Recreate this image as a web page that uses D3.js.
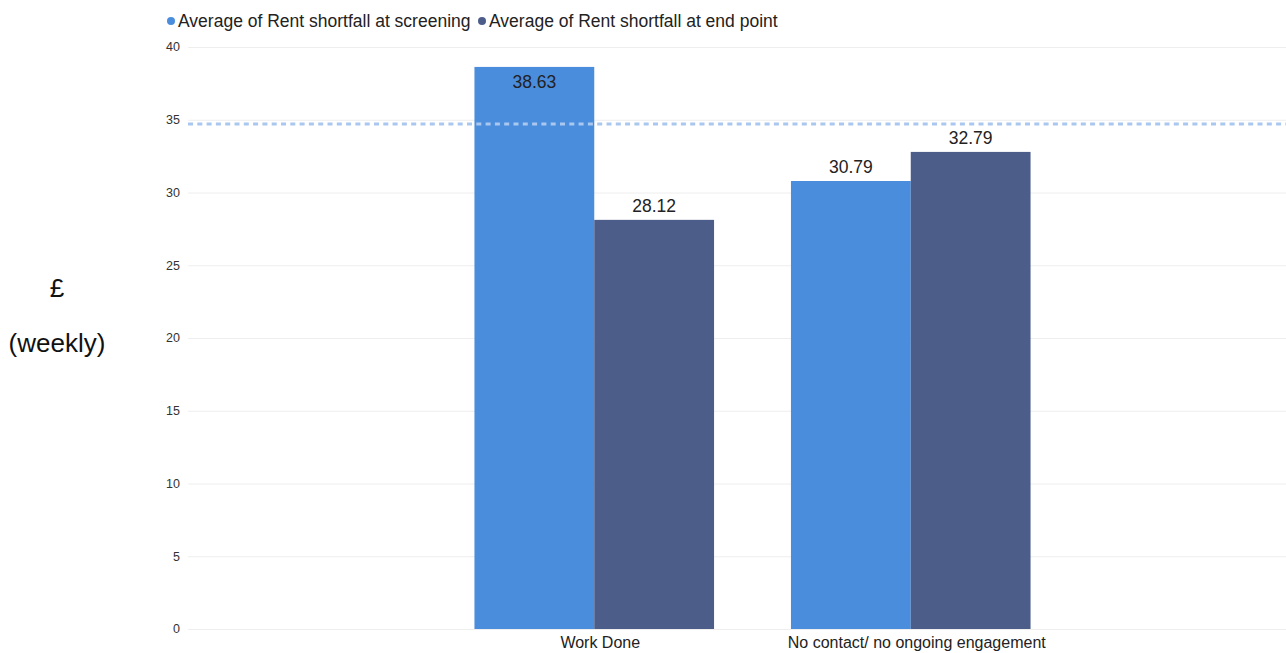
<!DOCTYPE html>
<html>
<head>
<meta charset="utf-8">
<script src="https://cdn.jsdelivr.net/npm/d3@7"></script>
<style>
  body { margin: 0; background: #fff; }
  text { font-family: "Liberation Sans", Arial, sans-serif; }
</style>
</head>
<body>
<div id="chart"></div>
<script>
// chart data
var categories = ["Work Done", "No contact/ no ongoing engagement"];
var seriesNames = ["Average of Rent shortfall at screening", "Average of Rent shortfall at end point"];
var screening = [38.63, 30.79];
var endPoint = [28.12, 32.79];
var yTicks = [0, 5, 10, 15, 20, 25, 30, 35, 40];
var colors = ["#4a8ddc", "#4c5d8a"];

var W = 1286, H = 653;
var svg = d3.select("#chart").append("svg")
    .attr("width", W)
    .attr("height", H);

// average line of the screening series
var avgLine = d3.mean(screening);

var y = d3.scaleLinear().domain([0, 40]).range([629, 47]);

var x0 = d3.scaleBand()
    .domain(categories)
    .range([436, 1069])
    .paddingInner(0.243)
    .paddingOuter(0.1215);

var x1 = d3.scaleBand()
    .domain([0, 1])
    .range([0, x0.bandwidth()]);

// gridlines
svg.append("g").selectAll("line")
    .data(yTicks).enter().append("line")
    .attr("x1", 188).attr("x2", W)
    .attr("y1", function(d){ return y(d) + 0.5 })
    .attr("y2", function(d){ return y(d) + 0.5 })
    .attr("stroke", "#eeeeee")
    .attr("stroke-width", 1);

// tick labels
svg.append("g").selectAll("text")
    .data(yTicks).enter().append("text")
    .attr("x", 180)
    .attr("y", function(d){ return y(d) })
    .attr("dy", "0.35em")
    .attr("text-anchor", "end")
    .attr("font-size", 12.5)
    .attr("fill", "#333")
    .text(function(d){ return d });

// bars
var rows = categories.map(function(c, i){
    return {cat: c, vals: [screening[i], endPoint[i]]};
});

var groups = svg.append("g").selectAll("g")
    .data(rows).enter().append("g")
    .attr("transform", function(d){ return "translate(" + x0(d.cat) + ",0)" });

groups.selectAll("rect")
    .data(function(d){ return d.vals }).enter().append("rect")
    .attr("x", function(d, i){ return x1(i) })
    .attr("width", x1.bandwidth())
    .attr("y", function(d){ return y(d) })
    .attr("height", function(d){ return y(0) - y(d) })
    .attr("fill", function(d, i){ return colors[i] });

// value labels, inside the bar when it would clip at the top
groups.selectAll("text")
    .data(function(d){ return d.vals }).enter().append("text")
    .attr("x", function(d, i){ return x1(i) + x1.bandwidth() / 2 })
    .attr("y", function(d){
        var top = y(d);
        return top - 20 < 47 ? top + 21 : top - 8;
    })
    .attr("text-anchor", "middle")
    .attr("font-size", 17.5)
    .attr("fill", "#222")
    .text(function(d){ return d.toFixed(2) });

// dashed average line
svg.append("line")
    .attr("x1", 188).attr("x2", W)
    .attr("y1", y(avgLine)).attr("y2", y(avgLine))
    .attr("stroke", "#a9c7ef")
    .attr("stroke-width", 3)
    .attr("stroke-dasharray", "5,4.3");

// category labels
svg.append("g").selectAll("text")
    .data(categories).enter().append("text")
    .attr("x", function(d){ return x0(d) + x0.bandwidth() / 2 + 6 })
    .attr("y", 648)
    .attr("text-anchor", "middle")
    .attr("font-size", 16)
    .attr("fill", "#222")
    .text(function(d){ return d });

// legend
var legendX = [171, 482];
var legend = svg.append("g").selectAll("g")
    .data(seriesNames).enter().append("g")
    .attr("transform", function(d, i){ return "translate(" + legendX[i] + ",21)" });

legend.append("circle")
    .attr("r", 4)
    .attr("fill", function(d, i){ return colors[i] });

legend.append("text")
    .attr("x", 7)
    .attr("dy", "0.35em")
    .attr("font-size", 17.5)
    .attr("fill", "#222")
    .text(function(d){ return d });

// y axis title
svg.append("text")
    .attr("x", 57).attr("y", 297)
    .attr("text-anchor", "middle")
    .attr("font-size", 26)
    .attr("fill", "#111")
    .text("£");

svg.append("text")
    .attr("x", 57).attr("y", 352)
    .attr("text-anchor", "middle")
    .attr("font-size", 26)
    .attr("fill", "#111")
    .text("(weekly)");
</script>
</body>
</html>
